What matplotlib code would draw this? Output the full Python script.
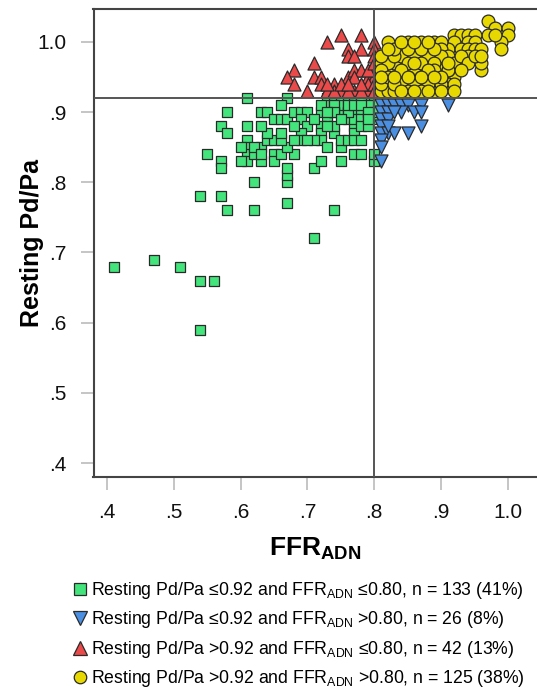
import matplotlib
matplotlib.use("Agg")
import matplotlib.pyplot as plt
from matplotlib.lines import Line2D

plt.rcParams['font.family'] = ['Liberation Sans', 'DejaVu Sans']
plt.rcParams['mathtext.fontset'] = 'custom'
plt.rcParams['mathtext.rm'] = 'Liberation Sans'
plt.rcParams['mathtext.bf'] = 'Liberation Sans:bold'
plt.rcParams['mathtext.it'] = 'Liberation Sans:italic'

# ---- data: (FFR_ADN, resting Pd/Pa) ----
green_x = [0.41, 0.47, 0.51, 0.54, 0.56, 0.54,
           0.54, 0.57, 0.58, 0.62, 0.67, 0.74, 0.71,
           0.62, 0.67, 0.67, 0.67,
           0.55, 0.57, 0.57, 0.71, 0.72, 0.75, 0.77, 0.78, 0.80,
           0.61, 0.61, 0.61, 0.61, 0.63, 0.63, 0.65, 0.65, 0.66, 0.68, 0.67, 0.64, 0.65, 0.64,
           0.63, 0.63, 0.64, 0.61, 0.58, 0.57, 0.58,
           0.61, 0.67, 0.66,
           0.65, 0.66, 0.67, 0.68, 0.69, 0.70, 0.69, 0.70, 0.69, 0.69, 0.72, 0.73, 0.72, 0.72,
           0.72, 0.71, 0.73, 0.74, 0.74, 0.75, 0.75, 0.76, 0.76, 0.77, 0.77, 0.77, 0.78, 0.75,
           0.73, 0.74, 0.75, 0.76, 0.77, 0.78, 0.79, 0.80,
           0.73, 0.74, 0.75, 0.76, 0.77, 0.78, 0.79, 0.80,
           0.74, 0.76, 0.77, 0.78, 0.79, 0.80,
           0.77, 0.78, 0.79, 0.80,
           0.74, 0.78, 0.79, 0.80, 0.76, 0.78, 0.79, 0.70, 0.68, 0.66, 0.62, 0.62, 0.60, 0.60,
           0.63, 0.68, 0.66, 0.71, 0.74, 0.73, 0.80,
           0.76, 0.77, 0.78, 0.79, 0.79, 0.75, 0.72, 0.73]
green_y = [0.68, 0.69, 0.68, 0.66, 0.66, 0.59,
           0.78, 0.78, 0.76, 0.76, 0.77, 0.76, 0.72,
           0.80, 0.80, 0.81, 0.82,
           0.84, 0.83, 0.82, 0.82, 0.83, 0.83, 0.84, 0.84, 0.83,
           0.86, 0.85, 0.84, 0.83, 0.85, 0.83, 0.84, 0.83, 0.84, 0.84, 0.85, 0.86, 0.86, 0.87,
           0.88, 0.90, 0.90, 0.88, 0.90, 0.88, 0.87,
           0.92, 0.92, 0.91,
           0.89, 0.89, 0.89, 0.90, 0.90, 0.90, 0.89, 0.88, 0.87, 0.86, 0.90, 0.89, 0.88, 0.87,
           0.86, 0.86, 0.85, 0.87, 0.88, 0.85, 0.86, 0.86, 0.89, 0.88, 0.87, 0.86, 0.86, 0.90,
           0.92, 0.92, 0.92, 0.92, 0.92, 0.92, 0.92, 0.92,
           0.91, 0.91, 0.91, 0.91, 0.91, 0.91, 0.91, 0.91,
           0.90, 0.90, 0.90, 0.90, 0.90, 0.90,
           0.89, 0.89, 0.89, 0.89,
           0.91, 0.92, 0.91, 0.90, 0.90, 0.88, 0.88, 0.86, 0.86, 0.86, 0.84, 0.85, 0.85, 0.83,
           0.84, 0.88, 0.87, 0.89, 0.90, 0.88, 0.84,
           0.91, 0.91, 0.91, 0.90, 0.89, 0.89, 0.91, 0.90]

blue_x = [0.82, 0.81, 0.82, 0.83, 0.84, 0.85, 0.87, 0.91, 0.86, 0.87, 0.81, 0.82,
          0.81, 0.82, 0.81, 0.87, 0.81, 0.82, 0.83, 0.85, 0.81, 0.81, 0.81,
          0.82, 0.84, 0.83]
blue_y = [0.92, 0.91, 0.91, 0.91, 0.91, 0.91, 0.91, 0.91, 0.90, 0.90, 0.90, 0.90,
          0.89, 0.89, 0.88, 0.88, 0.87, 0.87, 0.87, 0.87, 0.86, 0.85, 0.83,
          0.88, 0.90, 0.90]

red_x = [0.73, 0.75, 0.78, 0.80, 0.76, 0.78, 0.76, 0.77, 0.80, 0.80, 0.71, 0.68,
         0.67, 0.68, 0.71, 0.72, 0.72, 0.74, 0.70, 0.73, 0.75, 0.77, 0.79, 0.76,
         0.77, 0.78, 0.79, 0.80, 0.79, 0.80, 0.80, 0.74, 0.77, 0.80, 0.76, 0.78,
         0.78, 0.79, 0.80, 0.75, 0.73, 0.76]
red_y = [1.00, 1.01, 1.01, 1.00, 0.99, 0.99, 0.98, 0.98, 0.99, 0.98, 0.97, 0.96,
         0.95, 0.94, 0.95, 0.95, 0.94, 0.94, 0.93, 0.93, 0.93, 0.93, 0.93, 0.95,
         0.96, 0.96, 0.95, 0.95, 0.94, 0.94, 0.93, 0.93, 0.95, 0.96, 0.93, 0.93,
         0.94, 0.96, 0.97, 0.94, 0.94, 0.94]

yellow_x = [0.97, 0.98, 1.00, 1.00, 0.97, 0.99, 0.99,
            0.92, 0.93, 0.94, 0.95, 0.92, 0.94, 0.95,
            0.91, 0.93, 0.94, 0.95, 0.96, 0.94, 0.96,
            0.82, 0.85, 0.87, 0.89, 0.90, 0.84, 0.86, 0.88, 0.90,
            0.82, 0.85, 0.87, 0.89, 0.91, 0.81, 0.84, 0.86, 0.88, 0.90,
            0.82, 0.83, 0.85, 0.87, 0.89, 0.90, 0.81, 0.84, 0.86, 0.88, 0.92,
            0.82, 0.85, 0.87, 0.89, 0.91, 0.81, 0.82, 0.83, 0.85, 0.86, 0.88, 0.89, 0.81,
            0.83, 0.84, 0.86, 0.88, 0.91, 0.93, 0.96, 0.92, 0.90, 0.87, 0.85, 0.83,
            0.82, 0.84, 0.86, 0.88, 0.90, 0.89, 0.87, 0.85, 0.83, 0.81,
            0.82, 0.84, 0.86, 0.88, 0.90, 0.92, 0.91, 0.89, 0.87, 0.85, 0.83, 0.81,
            0.84, 0.86, 0.88, 0.90, 0.85, 0.87, 0.89, 0.83, 0.82, 0.84, 0.86, 0.88,
            0.93, 0.91, 0.89, 0.87, 0.85, 0.83, 0.81, 0.84, 0.86, 0.88, 0.90, 0.92,
            0.94, 0.95, 0.96, 0.93, 0.98]
yellow_y = [1.03, 1.02, 1.02, 1.01, 1.01, 1.00, 0.99,
            1.01, 1.01, 1.01, 1.01, 1.00, 1.00, 1.00,
            0.99, 0.99, 0.99, 0.99, 0.99, 0.98, 0.96,
            1.00, 1.00, 1.00, 1.00, 1.00, 0.99, 0.99, 0.99, 0.99,
            0.98, 0.98, 0.98, 0.98, 0.98, 0.97, 0.97, 0.97, 0.97, 0.97,
            0.96, 0.96, 0.96, 0.96, 0.96, 0.96, 0.95, 0.95, 0.95, 0.95, 0.95,
            0.94, 0.94, 0.94, 0.94, 0.94, 0.93, 0.93, 0.93, 0.93, 0.93, 0.93, 0.93, 0.94,
            0.95, 0.96, 0.96, 0.96, 0.96, 0.97, 0.97, 0.97, 0.95, 0.95, 0.95, 0.97,
            0.97, 0.98, 0.98, 0.98, 0.98, 0.97, 0.97, 0.97, 0.98, 0.96,
            0.95, 0.94, 0.94, 0.94, 0.94, 0.94, 0.96, 0.96, 0.93, 0.93, 0.94, 0.98,
            0.96, 0.97, 0.96, 0.95, 0.99, 0.99, 0.99, 0.99, 0.99, 1.00, 1.00, 1.00,
            0.98, 0.97, 0.95, 0.95, 0.95, 0.95, 0.95, 0.93, 0.93, 0.93, 0.93, 0.93,
            0.97, 0.98, 0.98, 0.96, 1.01]

labels = [r"Resting Pd/Pa ≤0.92 and FFR$_{\mathrm{ADN}}$ ≤0.80, n = 133 (41%)",
          r"Resting Pd/Pa ≤0.92 and FFR$_{\mathrm{ADN}}$ >0.80, n = 26 (8%)",
          r"Resting Pd/Pa >0.92 and FFR$_{\mathrm{ADN}}$ ≤0.80, n = 42 (13%)",
          r"Resting Pd/Pa >0.92 and FFR$_{\mathrm{ADN}}$ >0.80, n = 125 (38%)"]
xticks = [0.4, 0.5, 0.6, 0.7, 0.8, 0.9, 1.0]
xtick_labels = ['.4', '.5', '.6', '.7', '.8', '.9', '1.0']
yticks = [0.4, 0.5, 0.6, 0.7, 0.8, 0.9, 1.0]
ytick_labels = ['.4', '.5', '.6', '.7', '.8', '.9', '1.0']

c_green = '#44e47c'
c_blue = '#4b8fe2'
c_red = '#ea4a4a'
c_yellow = '#e6d800'
edge = '#2a2a2a'

fig = plt.figure(figsize=(5.37, 6.89), dpi=100)
ax_w = 1 - 93.5 / 537
ax = fig.add_axes([93.5 / 537, 1 - 477 / 689, ax_w, (477 - 9) / 689])

ax.scatter(green_x, green_y, marker='s', s=62, c=c_green, edgecolors=edge, linewidths=0.9, zorder=2)
ax.scatter(blue_x, blue_y, marker='v', s=88, c=c_blue, edgecolors=edge, linewidths=0.9, zorder=2)
ax.scatter(red_x, red_y, marker='^', s=88, c=c_red, edgecolors=edge, linewidths=0.9, zorder=2)
ax.scatter(yellow_x, yellow_y, marker='o', s=85, c=c_yellow, edgecolors=edge, linewidths=0.9, zorder=2)

ax.axhline(0.92, color='#555555', lw=1.4, zorder=3)
ax.axvline(0.80, color='#555555', lw=1.4, zorder=3)

ax.set_xlim(0.38, 1.0 + (537 - 508) / 668)
ax.set_ylim(0.4 - 14 / 702, 1.0 + 33 / 702)
ax.set_xticks(xticks)
ax.set_xticklabels(xtick_labels)
ax.set_yticks(yticks)
ax.set_yticklabels(ytick_labels)
ax.tick_params(axis='both', length=9.5, width=1.2, color='#bbbbbb', labelsize=15, labelcolor='#111111')
ax.tick_params(axis='y', pad=10)
ax.tick_params(axis='x', pad=9)
for sp in ['left', 'bottom', 'top']:
    ax.spines[sp].set_color('#444444')
    ax.spines[sp].set_linewidth(1.5)
ax.spines['right'].set_visible(False)

ax.set_ylabel('Resting Pd/Pa', fontsize=18, fontweight='bold')
ax.yaxis.set_label_coords((44 - 93.5) / (ax_w * 537), 0.5)
ax.set_xlabel(r'$\mathbf{FFR}_{\mathbf{ADN}}$', fontsize=19, labelpad=10)

handles = [
    Line2D([], [], ls='none', marker='s', ms=8, mfc=c_green, mec=edge, mew=0.9),
    Line2D([], [], ls='none', marker='v', ms=10, mfc=c_blue, mec=edge, mew=0.9),
    Line2D([], [], ls='none', marker='^', ms=10, mfc=c_red, mec=edge, mew=0.9),
    Line2D([], [], ls='none', marker='o', ms=9, mfc=c_yellow, mec=edge, mew=0.9),
]
fig.legend(handles, labels, loc='upper left', bbox_to_anchor=(72 / 537, 1 - 580 / 689),
           frameon=False, fontsize=12.7, handlelength=0.9, handletextpad=0.15,
           labelspacing=0.48, borderpad=0, borderaxespad=0)

fig.savefig('out.png', dpi=100)
